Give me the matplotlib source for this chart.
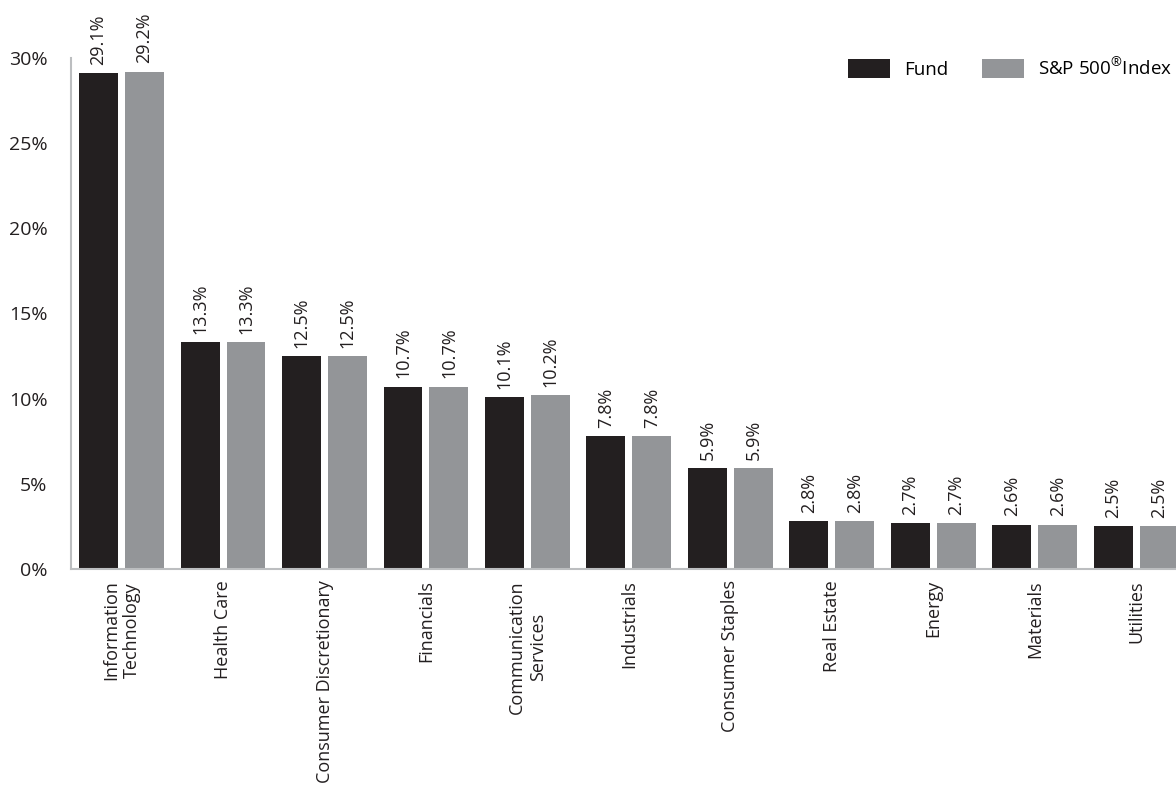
import numpy as np
import matplotlib.pyplot as plt

plt.rcParams['font.family'] = ['Open Sans', 'DejaVu Sans']
plt.rcParams['mathtext.fontset'] = 'custom'
plt.rcParams['mathtext.rm'] = 'Open Sans'

sectors = ["Information\nTechnology", "Health Care", "Consumer Discretionary", "Financials",
           "Communication\nServices", "Industrials", "Consumer Staples", "Real Estate",
           "Energy", "Materials", "Utilities"]
fund = [29.1, 13.3, 12.5, 10.7, 10.1, 7.8, 5.9, 2.8, 2.7, 2.6, 2.5]
index = [29.2, 13.3, 12.5, 10.7, 10.2, 7.8, 5.9, 2.8, 2.7, 2.6, 2.5]

fund_col = '#231f20'
idx_col = '#939598'

fig = plt.figure(figsize=(11.76, 7.98), dpi=100)
ax = fig.add_axes([0.0604, 0.287, 0.9396, 0.6403])

x = np.arange(len(sectors))
w = 0.384
off = w / 2 + 0.0345
b1 = ax.bar(x - off, fund, w, color=fund_col, label='Fund')
b2 = ax.bar(x + off, index, w, color=idx_col, label='S&P 500$^{\\circledR}$Index')

for bars, vals in ((b1, fund), (b2, index)):
    for r, v in zip(bars, vals):
        ax.annotate('%.1f%%' % v, (r.get_x() + r.get_width() / 2, v),
                    xytext=(0, 6), textcoords='offset points',
                    rotation=90, ha='center', va='bottom', fontsize=13, color='#231f20')

ax.set_xlim(-0.4975, 10.39)
ax.set_ylim(0, 30)
ax.set_yticks(range(0, 31, 5))
ax.set_yticklabels(['%d%%' % t for t in range(0, 31, 5)])
ax.set_xticks(x)
ax.set_xticklabels(sectors, rotation=90, ha='center', va='top', multialignment='center',
                   linespacing=1.25, fontsize=13)
ax.tick_params(axis='both', length=0, labelsize=14, colors='#231f20')
ax.tick_params(axis='x', labelsize=13, pad=8)
ax.tick_params(axis='y', pad=17)

for s in ('top', 'right'):
    ax.spines[s].set_visible(False)
for s in ('left', 'bottom'):
    ax.spines[s].set_color('#bcbec0')
    ax.spines[s].set_linewidth(1.5)

ax.legend(loc='upper right', bbox_to_anchor=(1.012, 1.035), ncol=2, frameon=False,
          fontsize=13.5, handlelength=2.25, handleheight=1.2, columnspacing=1.8,
          handletextpad=0.75)

fig.savefig('out.png', dpi=100)
